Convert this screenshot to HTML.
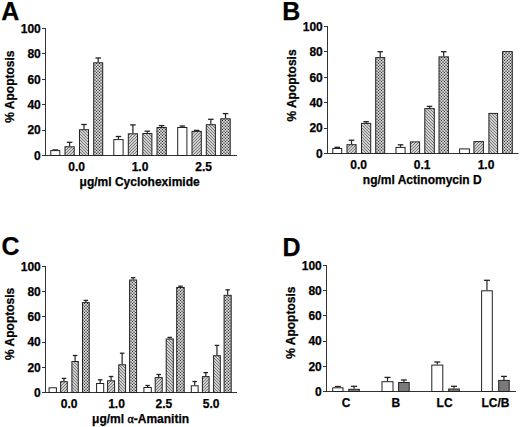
<!DOCTYPE html>
<html><head><meta charset="utf-8"><style>
html,body{margin:0;padding:0;background:#fff;}
svg{display:block;}
</style></head><body>
<svg width="520" height="427" viewBox="0 0 520 427">
<rect width="520" height="427" fill="#fff"/>
<defs>
<pattern id="h1" patternUnits="userSpaceOnUse" width="3" height="3">
<rect width="3" height="3" fill="#fff"/>
<path d="M-1,1 L1,-1 M0,3 L3,0 M2,4 L4,2" stroke="#707070" stroke-width="1.2"/>
</pattern>
<pattern id="h2" patternUnits="userSpaceOnUse" width="3" height="3">
<rect width="3" height="3" fill="#fff"/>
<path d="M-1,2 L1,4 M0,0 L3,3 M2,-1 L4,1" stroke="#707070" stroke-width="1.2"/>
</pattern>
<pattern id="hx" patternUnits="userSpaceOnUse" width="3" height="3">
<rect width="3" height="3" fill="#fff"/>
<circle cx="0.5" cy="0.5" r="0.78" fill="#2a2a2a"/><circle cx="3.5" cy="0.5" r="0.78" fill="#2a2a2a"/><circle cx="0.5" cy="3.5" r="0.78" fill="#2a2a2a"/><circle cx="3.5" cy="3.5" r="0.78" fill="#2a2a2a"/>
<circle cx="2" cy="2" r="0.86" fill="#2a2a2a"/>
</pattern>
</defs>
<line x1="45.5" y1="28.0" x2="45.5" y2="156.0" stroke="#333" stroke-width="1"/>
<line x1="42.0" y1="155.5" x2="237" y2="155.5" stroke="#333" stroke-width="1"/>
<line x1="42.0" y1="155.5" x2="45.5" y2="155.5" stroke="#333" stroke-width="1"/>
<text x="40.8" y="159.8" text-anchor="end" font-family="Liberation Sans, sans-serif" font-weight="bold" fill="#000" stroke="#000" stroke-width="0.25" font-size="12">0</text>
<line x1="42.0" y1="130.5" x2="45.5" y2="130.5" stroke="#333" stroke-width="1"/>
<text x="40.8" y="134.4" text-anchor="end" font-family="Liberation Sans, sans-serif" font-weight="bold" fill="#000" stroke="#000" stroke-width="0.25" font-size="12">20</text>
<line x1="42.0" y1="104.5" x2="45.5" y2="104.5" stroke="#333" stroke-width="1"/>
<text x="40.8" y="109.0" text-anchor="end" font-family="Liberation Sans, sans-serif" font-weight="bold" fill="#000" stroke="#000" stroke-width="0.25" font-size="12">40</text>
<line x1="42.0" y1="79.5" x2="45.5" y2="79.5" stroke="#333" stroke-width="1"/>
<text x="40.8" y="83.6" text-anchor="end" font-family="Liberation Sans, sans-serif" font-weight="bold" fill="#000" stroke="#000" stroke-width="0.25" font-size="12">60</text>
<line x1="42.0" y1="53.5" x2="45.5" y2="53.5" stroke="#333" stroke-width="1"/>
<text x="40.8" y="58.2" text-anchor="end" font-family="Liberation Sans, sans-serif" font-weight="bold" fill="#000" stroke="#000" stroke-width="0.25" font-size="12">80</text>
<line x1="42.0" y1="28.5" x2="45.5" y2="28.5" stroke="#333" stroke-width="1"/>
<text x="40.8" y="32.8" text-anchor="end" font-family="Liberation Sans, sans-serif" font-weight="bold" fill="#000" stroke="#000" stroke-width="0.25" font-size="12">100</text>
<text transform="translate(13.7,122.7) rotate(-90)" font-family="Liberation Sans, sans-serif" font-weight="bold" fill="#000" stroke="#000" stroke-width="0.25" font-size="12">% Apoptosis</text>
<text x="1.2" y="19.5" font-family="Liberation Sans, sans-serif" font-weight="bold" fill="#000" stroke="#000" stroke-width="0.25" font-size="25">A</text>
<line x1="52.55" y1="149.9" x2="58.05" y2="149.9" stroke="#222" stroke-width="1.3"/>
<rect x="50.80" y="150.60" width="9.00" height="4.90" fill="white" stroke="#222" stroke-width="1"/>
<line x1="69.6" y1="146.3" x2="69.6" y2="142.3" stroke="#222" stroke-width="1.2"/>
<line x1="66.85" y1="142.3" x2="72.35" y2="142.3" stroke="#222" stroke-width="1.3"/>
<rect x="65.00" y="146.80" width="9.20" height="8.70" fill="url(#h1)" stroke="#222" stroke-width="1"/>
<line x1="84.0" y1="129.2" x2="84.0" y2="124.5" stroke="#222" stroke-width="1.2"/>
<line x1="81.25" y1="124.5" x2="86.75" y2="124.5" stroke="#222" stroke-width="1.3"/>
<rect x="79.50" y="129.70" width="9.00" height="25.80" fill="url(#h2)" stroke="#222" stroke-width="1"/>
<line x1="98.2" y1="62.3" x2="98.2" y2="58.0" stroke="#222" stroke-width="1.2"/>
<line x1="95.45" y1="58.0" x2="100.95" y2="58.0" stroke="#222" stroke-width="1.3"/>
<rect x="93.70" y="62.80" width="9.00" height="92.70" fill="url(#hx)" stroke="#222" stroke-width="1"/>
<line x1="118.44999999999999" y1="139.1" x2="118.44999999999999" y2="136.5" stroke="#222" stroke-width="1.2"/>
<line x1="115.69999999999999" y1="136.5" x2="121.19999999999999" y2="136.5" stroke="#222" stroke-width="1.3"/>
<rect x="113.80" y="139.60" width="9.30" height="15.90" fill="white" stroke="#222" stroke-width="1"/>
<line x1="132.9" y1="133.3" x2="132.9" y2="124.9" stroke="#222" stroke-width="1.2"/>
<line x1="130.15" y1="124.9" x2="135.65" y2="124.9" stroke="#222" stroke-width="1.3"/>
<rect x="128.30" y="133.80" width="9.20" height="21.70" fill="url(#h1)" stroke="#222" stroke-width="1"/>
<line x1="147.35000000000002" y1="133.0" x2="147.35000000000002" y2="131.2" stroke="#222" stroke-width="1.2"/>
<line x1="144.60000000000002" y1="131.2" x2="150.10000000000002" y2="131.2" stroke="#222" stroke-width="1.3"/>
<rect x="142.80" y="133.50" width="9.10" height="22.00" fill="url(#h2)" stroke="#222" stroke-width="1"/>
<line x1="161.65" y1="127.0" x2="161.65" y2="125.6" stroke="#222" stroke-width="1.2"/>
<line x1="158.9" y1="125.6" x2="164.4" y2="125.6" stroke="#222" stroke-width="1.3"/>
<rect x="157.00" y="127.50" width="9.30" height="28.00" fill="url(#hx)" stroke="#222" stroke-width="1"/>
<line x1="182.3" y1="127.0" x2="182.3" y2="126.0" stroke="#222" stroke-width="1.2"/>
<line x1="179.55" y1="126.0" x2="185.05" y2="126.0" stroke="#222" stroke-width="1.3"/>
<rect x="177.70" y="127.50" width="9.20" height="28.00" fill="white" stroke="#222" stroke-width="1"/>
<line x1="193.9" y1="130.4" x2="199.4" y2="130.4" stroke="#222" stroke-width="1.3"/>
<rect x="192.00" y="131.40" width="9.30" height="24.10" fill="url(#h1)" stroke="#222" stroke-width="1"/>
<line x1="210.85000000000002" y1="124.2" x2="210.85000000000002" y2="119.3" stroke="#222" stroke-width="1.2"/>
<line x1="208.10000000000002" y1="119.3" x2="213.60000000000002" y2="119.3" stroke="#222" stroke-width="1.3"/>
<rect x="206.30" y="124.70" width="9.10" height="30.80" fill="url(#h2)" stroke="#222" stroke-width="1"/>
<line x1="225.5" y1="118.3" x2="225.5" y2="113.6" stroke="#222" stroke-width="1.2"/>
<line x1="222.75" y1="113.6" x2="228.25" y2="113.6" stroke="#222" stroke-width="1.3"/>
<rect x="220.80" y="118.80" width="9.40" height="36.70" fill="url(#hx)" stroke="#222" stroke-width="1"/>
<text x="76.6" y="171.4" text-anchor="middle" font-family="Liberation Sans, sans-serif" font-weight="bold" fill="#000" stroke="#000" stroke-width="0.25" font-size="12">0.0</text>
<text x="140.0" y="171.4" text-anchor="middle" font-family="Liberation Sans, sans-serif" font-weight="bold" fill="#000" stroke="#000" stroke-width="0.25" font-size="12">1.0</text>
<text x="203.6" y="171.4" text-anchor="middle" font-family="Liberation Sans, sans-serif" font-weight="bold" fill="#000" stroke="#000" stroke-width="0.25" font-size="12">2.5</text>
<text x="79.6" y="185.5" font-family="Liberation Sans, sans-serif" font-weight="bold" fill="#000" stroke="#000" stroke-width="0.25" font-size="12">μg/ml Cycloheximide</text>
<line x1="327.5" y1="26.0" x2="327.5" y2="154.0" stroke="#333" stroke-width="1"/>
<line x1="324.0" y1="153.5" x2="518.5" y2="153.5" stroke="#333" stroke-width="1"/>
<line x1="324.0" y1="153.5" x2="327.5" y2="153.5" stroke="#333" stroke-width="1"/>
<text x="322.8" y="157.8" text-anchor="end" font-family="Liberation Sans, sans-serif" font-weight="bold" fill="#000" stroke="#000" stroke-width="0.25" font-size="12">0</text>
<line x1="324.0" y1="128.5" x2="327.5" y2="128.5" stroke="#333" stroke-width="1"/>
<text x="322.8" y="132.4" text-anchor="end" font-family="Liberation Sans, sans-serif" font-weight="bold" fill="#000" stroke="#000" stroke-width="0.25" font-size="12">20</text>
<line x1="324.0" y1="102.5" x2="327.5" y2="102.5" stroke="#333" stroke-width="1"/>
<text x="322.8" y="107.0" text-anchor="end" font-family="Liberation Sans, sans-serif" font-weight="bold" fill="#000" stroke="#000" stroke-width="0.25" font-size="12">40</text>
<line x1="324.0" y1="77.5" x2="327.5" y2="77.5" stroke="#333" stroke-width="1"/>
<text x="322.8" y="81.6" text-anchor="end" font-family="Liberation Sans, sans-serif" font-weight="bold" fill="#000" stroke="#000" stroke-width="0.25" font-size="12">60</text>
<line x1="324.0" y1="51.5" x2="327.5" y2="51.5" stroke="#333" stroke-width="1"/>
<text x="322.8" y="56.2" text-anchor="end" font-family="Liberation Sans, sans-serif" font-weight="bold" fill="#000" stroke="#000" stroke-width="0.25" font-size="12">80</text>
<line x1="324.0" y1="26.5" x2="327.5" y2="26.5" stroke="#333" stroke-width="1"/>
<text x="322.8" y="30.8" text-anchor="end" font-family="Liberation Sans, sans-serif" font-weight="bold" fill="#000" stroke="#000" stroke-width="0.25" font-size="12">100</text>
<text transform="translate(295.8,121.6) rotate(-90)" font-family="Liberation Sans, sans-serif" font-weight="bold" fill="#000" stroke="#000" stroke-width="0.25" font-size="12">% Apoptosis</text>
<text x="282.3" y="19.5" font-family="Liberation Sans, sans-serif" font-weight="bold" fill="#000" stroke="#000" stroke-width="0.25" font-size="25">B</text>
<line x1="337.25" y1="148.0" x2="337.25" y2="147.3" stroke="#222" stroke-width="1.2"/>
<line x1="334.5" y1="147.3" x2="340.0" y2="147.3" stroke="#222" stroke-width="1.3"/>
<rect x="332.80" y="148.50" width="8.90" height="5.00" fill="white" stroke="#222" stroke-width="1"/>
<line x1="351.55" y1="144.2" x2="351.55" y2="140.2" stroke="#222" stroke-width="1.2"/>
<line x1="348.8" y1="140.2" x2="354.3" y2="140.2" stroke="#222" stroke-width="1.3"/>
<rect x="347.00" y="144.70" width="9.10" height="8.80" fill="url(#h1)" stroke="#222" stroke-width="1"/>
<line x1="366.1" y1="122.9" x2="366.1" y2="121.7" stroke="#222" stroke-width="1.2"/>
<line x1="363.35" y1="121.7" x2="368.85" y2="121.7" stroke="#222" stroke-width="1.3"/>
<rect x="361.50" y="123.40" width="9.20" height="30.10" fill="url(#h2)" stroke="#222" stroke-width="1"/>
<line x1="380.2" y1="57.1" x2="380.2" y2="51.7" stroke="#222" stroke-width="1.2"/>
<line x1="377.45" y1="51.7" x2="382.95" y2="51.7" stroke="#222" stroke-width="1.3"/>
<rect x="375.70" y="57.60" width="9.00" height="95.90" fill="url(#hx)" stroke="#222" stroke-width="1"/>
<line x1="400.55" y1="146.9" x2="400.55" y2="144.8" stroke="#222" stroke-width="1.2"/>
<line x1="397.8" y1="144.8" x2="403.3" y2="144.8" stroke="#222" stroke-width="1.3"/>
<rect x="396.00" y="147.40" width="9.10" height="6.10" fill="white" stroke="#222" stroke-width="1"/>
<rect x="410.40" y="141.90" width="9.20" height="11.60" fill="url(#h1)" stroke="#222" stroke-width="1"/>
<line x1="429.55" y1="108.1" x2="429.55" y2="106.4" stroke="#222" stroke-width="1.2"/>
<line x1="426.8" y1="106.4" x2="432.3" y2="106.4" stroke="#222" stroke-width="1.3"/>
<rect x="424.80" y="108.60" width="9.50" height="44.90" fill="url(#h2)" stroke="#222" stroke-width="1"/>
<line x1="443.7" y1="56.4" x2="443.7" y2="51.7" stroke="#222" stroke-width="1.2"/>
<line x1="440.95" y1="51.7" x2="446.45" y2="51.7" stroke="#222" stroke-width="1.3"/>
<rect x="439.00" y="56.90" width="9.40" height="96.60" fill="url(#hx)" stroke="#222" stroke-width="1"/>
<rect x="459.60" y="148.90" width="9.80" height="4.60" fill="white" stroke="#222" stroke-width="1"/>
<rect x="473.90" y="141.60" width="9.50" height="11.90" fill="url(#h1)" stroke="#222" stroke-width="1"/>
<rect x="488.90" y="113.40" width="8.70" height="40.10" fill="url(#h2)" stroke="#222" stroke-width="1"/>
<rect x="502.60" y="51.60" width="9.70" height="101.90" fill="url(#hx)" stroke="#222" stroke-width="1"/>
<text x="358.7" y="168.7" text-anchor="middle" font-family="Liberation Sans, sans-serif" font-weight="bold" fill="#000" stroke="#000" stroke-width="0.25" font-size="12">0.0</text>
<text x="422.2" y="168.7" text-anchor="middle" font-family="Liberation Sans, sans-serif" font-weight="bold" fill="#000" stroke="#000" stroke-width="0.25" font-size="12">0.1</text>
<text x="486.0" y="168.7" text-anchor="middle" font-family="Liberation Sans, sans-serif" font-weight="bold" fill="#000" stroke="#000" stroke-width="0.25" font-size="12">1.0</text>
<text x="362.8" y="183.5" font-family="Liberation Sans, sans-serif" font-weight="bold" fill="#000" stroke="#000" stroke-width="0.25" font-size="12">ng/ml Actinomycin D</text>
<line x1="45.5" y1="266.0" x2="45.5" y2="393.0" stroke="#333" stroke-width="1"/>
<line x1="42.0" y1="392.5" x2="237" y2="392.5" stroke="#333" stroke-width="1"/>
<line x1="42.0" y1="392.5" x2="45.5" y2="392.5" stroke="#333" stroke-width="1"/>
<text x="40.8" y="396.8" text-anchor="end" font-family="Liberation Sans, sans-serif" font-weight="bold" fill="#000" stroke="#000" stroke-width="0.25" font-size="12">0</text>
<line x1="42.0" y1="367.5" x2="45.5" y2="367.5" stroke="#333" stroke-width="1"/>
<text x="40.8" y="371.6" text-anchor="end" font-family="Liberation Sans, sans-serif" font-weight="bold" fill="#000" stroke="#000" stroke-width="0.25" font-size="12">20</text>
<line x1="42.0" y1="342.5" x2="45.5" y2="342.5" stroke="#333" stroke-width="1"/>
<text x="40.8" y="346.4" text-anchor="end" font-family="Liberation Sans, sans-serif" font-weight="bold" fill="#000" stroke="#000" stroke-width="0.25" font-size="12">40</text>
<line x1="42.0" y1="316.5" x2="45.5" y2="316.5" stroke="#333" stroke-width="1"/>
<text x="40.8" y="321.2" text-anchor="end" font-family="Liberation Sans, sans-serif" font-weight="bold" fill="#000" stroke="#000" stroke-width="0.25" font-size="12">60</text>
<line x1="42.0" y1="291.5" x2="45.5" y2="291.5" stroke="#333" stroke-width="1"/>
<text x="40.8" y="296.0" text-anchor="end" font-family="Liberation Sans, sans-serif" font-weight="bold" fill="#000" stroke="#000" stroke-width="0.25" font-size="12">80</text>
<line x1="42.0" y1="266.5" x2="45.5" y2="266.5" stroke="#333" stroke-width="1"/>
<text x="40.8" y="270.8" text-anchor="end" font-family="Liberation Sans, sans-serif" font-weight="bold" fill="#000" stroke="#000" stroke-width="0.25" font-size="12">100</text>
<text transform="translate(13.6,360.0) rotate(-90)" font-family="Liberation Sans, sans-serif" font-weight="bold" fill="#000" stroke="#000" stroke-width="0.25" font-size="12">% Apoptosis</text>
<text x="1.6" y="255.3" font-family="Liberation Sans, sans-serif" font-weight="bold" fill="#000" stroke="#000" stroke-width="0.25" font-size="25">C</text>
<rect x="49.10" y="387.80" width="7.30" height="4.70" fill="white" stroke="#222" stroke-width="1"/>
<line x1="63.95" y1="381.2" x2="63.95" y2="378.4" stroke="#222" stroke-width="1.2"/>
<line x1="61.7" y1="378.4" x2="66.2" y2="378.4" stroke="#222" stroke-width="1.3"/>
<rect x="60.60" y="381.70" width="6.70" height="10.80" fill="url(#h1)" stroke="#222" stroke-width="1"/>
<line x1="75.1" y1="361.0" x2="75.1" y2="355.5" stroke="#222" stroke-width="1.2"/>
<line x1="72.85" y1="355.5" x2="77.35" y2="355.5" stroke="#222" stroke-width="1.3"/>
<rect x="71.90" y="361.50" width="6.40" height="31.00" fill="url(#h2)" stroke="#222" stroke-width="1"/>
<line x1="85.85" y1="302.1" x2="85.85" y2="300.4" stroke="#222" stroke-width="1.2"/>
<line x1="83.6" y1="300.4" x2="88.1" y2="300.4" stroke="#222" stroke-width="1.3"/>
<rect x="82.50" y="302.60" width="6.70" height="89.90" fill="url(#hx)" stroke="#222" stroke-width="1"/>
<line x1="100.15" y1="383.0" x2="100.15" y2="379.8" stroke="#222" stroke-width="1.2"/>
<line x1="97.9" y1="379.8" x2="102.4" y2="379.8" stroke="#222" stroke-width="1.3"/>
<rect x="96.60" y="383.50" width="7.10" height="9.00" fill="white" stroke="#222" stroke-width="1"/>
<line x1="111.1" y1="380.3" x2="111.1" y2="376.5" stroke="#222" stroke-width="1.2"/>
<line x1="108.85" y1="376.5" x2="113.35" y2="376.5" stroke="#222" stroke-width="1.3"/>
<rect x="107.60" y="380.80" width="7.00" height="11.70" fill="url(#h1)" stroke="#222" stroke-width="1"/>
<line x1="122.15" y1="364.3" x2="122.15" y2="353.2" stroke="#222" stroke-width="1.2"/>
<line x1="119.9" y1="353.2" x2="124.4" y2="353.2" stroke="#222" stroke-width="1.3"/>
<rect x="118.70" y="364.80" width="6.90" height="27.70" fill="url(#h2)" stroke="#222" stroke-width="1"/>
<line x1="133.1" y1="279.5" x2="133.1" y2="277.7" stroke="#222" stroke-width="1.2"/>
<line x1="130.85" y1="277.7" x2="135.35" y2="277.7" stroke="#222" stroke-width="1.3"/>
<rect x="129.60" y="280.00" width="7.00" height="112.50" fill="url(#hx)" stroke="#222" stroke-width="1"/>
<line x1="147.60000000000002" y1="387.0" x2="147.60000000000002" y2="385.5" stroke="#222" stroke-width="1.2"/>
<line x1="145.35000000000002" y1="385.5" x2="149.85000000000002" y2="385.5" stroke="#222" stroke-width="1.3"/>
<rect x="143.90" y="387.50" width="7.40" height="5.00" fill="white" stroke="#222" stroke-width="1"/>
<line x1="158.7" y1="377.1" x2="158.7" y2="374.5" stroke="#222" stroke-width="1.2"/>
<line x1="156.45" y1="374.5" x2="160.95" y2="374.5" stroke="#222" stroke-width="1.3"/>
<rect x="155.20" y="377.60" width="7.00" height="14.90" fill="url(#h1)" stroke="#222" stroke-width="1"/>
<line x1="169.75" y1="338.5" x2="169.75" y2="337.4" stroke="#222" stroke-width="1.2"/>
<line x1="167.5" y1="337.4" x2="172.0" y2="337.4" stroke="#222" stroke-width="1.3"/>
<rect x="166.20" y="339.00" width="7.10" height="53.50" fill="url(#h2)" stroke="#222" stroke-width="1"/>
<line x1="180.45" y1="287.0" x2="180.45" y2="286.2" stroke="#222" stroke-width="1.2"/>
<line x1="178.2" y1="286.2" x2="182.7" y2="286.2" stroke="#222" stroke-width="1.3"/>
<rect x="176.70" y="287.50" width="7.50" height="105.00" fill="url(#hx)" stroke="#222" stroke-width="1"/>
<line x1="194.7" y1="385.3" x2="194.7" y2="381.5" stroke="#222" stroke-width="1.2"/>
<line x1="192.45" y1="381.5" x2="196.95" y2="381.5" stroke="#222" stroke-width="1.3"/>
<rect x="191.30" y="385.80" width="6.80" height="6.70" fill="white" stroke="#222" stroke-width="1"/>
<line x1="205.75" y1="376.1" x2="205.75" y2="372.6" stroke="#222" stroke-width="1.2"/>
<line x1="203.5" y1="372.6" x2="208.0" y2="372.6" stroke="#222" stroke-width="1.3"/>
<rect x="202.40" y="376.60" width="6.70" height="15.90" fill="url(#h1)" stroke="#222" stroke-width="1"/>
<line x1="216.95" y1="355.2" x2="216.95" y2="345.4" stroke="#222" stroke-width="1.2"/>
<line x1="214.7" y1="345.4" x2="219.2" y2="345.4" stroke="#222" stroke-width="1.3"/>
<rect x="213.60" y="355.70" width="6.70" height="36.80" fill="url(#h2)" stroke="#222" stroke-width="1"/>
<line x1="227.64999999999998" y1="294.8" x2="227.64999999999998" y2="289.8" stroke="#222" stroke-width="1.2"/>
<line x1="225.39999999999998" y1="289.8" x2="229.89999999999998" y2="289.8" stroke="#222" stroke-width="1.3"/>
<rect x="224.10" y="295.30" width="7.10" height="97.20" fill="url(#hx)" stroke="#222" stroke-width="1"/>
<text x="69.2" y="407.7" text-anchor="middle" font-family="Liberation Sans, sans-serif" font-weight="bold" fill="#000" stroke="#000" stroke-width="0.25" font-size="12">0.0</text>
<text x="116.5" y="407.7" text-anchor="middle" font-family="Liberation Sans, sans-serif" font-weight="bold" fill="#000" stroke="#000" stroke-width="0.25" font-size="12">1.0</text>
<text x="163.8" y="407.7" text-anchor="middle" font-family="Liberation Sans, sans-serif" font-weight="bold" fill="#000" stroke="#000" stroke-width="0.25" font-size="12">2.5</text>
<text x="211.2" y="407.7" text-anchor="middle" font-family="Liberation Sans, sans-serif" font-weight="bold" fill="#000" stroke="#000" stroke-width="0.25" font-size="12">5.0</text>
<text x="92.1" y="422.5" font-family="Liberation Sans, sans-serif" font-weight="bold" fill="#000" stroke="#000" stroke-width="0.25" font-size="12">μg/ml <tspan font-family="Liberation Serif" font-weight="normal" stroke-width="0.45">α</tspan>-Amanitin</text>
<line x1="326.5" y1="265.0" x2="326.5" y2="392.0" stroke="#333" stroke-width="1"/>
<line x1="323.0" y1="391.5" x2="516" y2="391.5" stroke="#333" stroke-width="1"/>
<line x1="323.0" y1="391.5" x2="326.5" y2="391.5" stroke="#333" stroke-width="1"/>
<text x="321.8" y="395.8" text-anchor="end" font-family="Liberation Sans, sans-serif" font-weight="bold" fill="#000" stroke="#000" stroke-width="0.25" font-size="12">0</text>
<line x1="323.0" y1="366.5" x2="326.5" y2="366.5" stroke="#333" stroke-width="1"/>
<text x="321.8" y="370.6" text-anchor="end" font-family="Liberation Sans, sans-serif" font-weight="bold" fill="#000" stroke="#000" stroke-width="0.25" font-size="12">20</text>
<line x1="323.0" y1="341.5" x2="326.5" y2="341.5" stroke="#333" stroke-width="1"/>
<text x="321.8" y="345.4" text-anchor="end" font-family="Liberation Sans, sans-serif" font-weight="bold" fill="#000" stroke="#000" stroke-width="0.25" font-size="12">40</text>
<line x1="323.0" y1="315.5" x2="326.5" y2="315.5" stroke="#333" stroke-width="1"/>
<text x="321.8" y="320.2" text-anchor="end" font-family="Liberation Sans, sans-serif" font-weight="bold" fill="#000" stroke="#000" stroke-width="0.25" font-size="12">60</text>
<line x1="323.0" y1="290.5" x2="326.5" y2="290.5" stroke="#333" stroke-width="1"/>
<text x="321.8" y="295.0" text-anchor="end" font-family="Liberation Sans, sans-serif" font-weight="bold" fill="#000" stroke="#000" stroke-width="0.25" font-size="12">80</text>
<line x1="323.0" y1="265.5" x2="326.5" y2="265.5" stroke="#333" stroke-width="1"/>
<text x="321.8" y="269.8" text-anchor="end" font-family="Liberation Sans, sans-serif" font-weight="bold" fill="#000" stroke="#000" stroke-width="0.25" font-size="12">100</text>
<text transform="translate(295.0,358.8) rotate(-90)" font-family="Liberation Sans, sans-serif" font-weight="bold" fill="#000" stroke="#000" stroke-width="0.25" font-size="12">% Apoptosis</text>
<text x="282.5" y="256.0" font-family="Liberation Sans, sans-serif" font-weight="bold" fill="#000" stroke="#000" stroke-width="0.25" font-size="25">D</text>
<line x1="337.85" y1="387.3" x2="337.85" y2="386.5" stroke="#222" stroke-width="1.2"/>
<line x1="334.85" y1="386.5" x2="340.85" y2="386.5" stroke="#222" stroke-width="1.3"/>
<rect x="332.70" y="387.80" width="10.30" height="3.70" fill="white" stroke="#222" stroke-width="1"/>
<line x1="354.05" y1="388.8" x2="354.05" y2="386.3" stroke="#222" stroke-width="1.2"/>
<line x1="351.05" y1="386.3" x2="357.05" y2="386.3" stroke="#222" stroke-width="1.3"/>
<rect x="348.80" y="389.30" width="10.50" height="2.20" fill="#7a7a7a" stroke="#222" stroke-width="1"/>
<line x1="387.5" y1="381.2" x2="387.5" y2="377.4" stroke="#222" stroke-width="1.2"/>
<line x1="384.5" y1="377.4" x2="390.5" y2="377.4" stroke="#222" stroke-width="1.3"/>
<rect x="382.00" y="381.70" width="11.00" height="9.80" fill="white" stroke="#222" stroke-width="1"/>
<line x1="403.9" y1="382.0" x2="403.9" y2="380.0" stroke="#222" stroke-width="1.2"/>
<line x1="400.9" y1="380.0" x2="406.9" y2="380.0" stroke="#222" stroke-width="1.3"/>
<rect x="398.60" y="382.50" width="10.60" height="9.00" fill="#7a7a7a" stroke="#222" stroke-width="1"/>
<line x1="437.3" y1="364.6" x2="437.3" y2="362.0" stroke="#222" stroke-width="1.2"/>
<line x1="434.3" y1="362.0" x2="440.3" y2="362.0" stroke="#222" stroke-width="1.3"/>
<rect x="431.80" y="365.10" width="11.00" height="26.40" fill="white" stroke="#222" stroke-width="1"/>
<line x1="454.0" y1="388.5" x2="454.0" y2="386.3" stroke="#222" stroke-width="1.2"/>
<line x1="451.0" y1="386.3" x2="457.0" y2="386.3" stroke="#222" stroke-width="1.3"/>
<rect x="448.70" y="389.00" width="10.60" height="2.50" fill="#7a7a7a" stroke="#222" stroke-width="1"/>
<line x1="486.95000000000005" y1="290.3" x2="486.95000000000005" y2="280.3" stroke="#222" stroke-width="1.2"/>
<line x1="483.95000000000005" y1="280.3" x2="489.95000000000005" y2="280.3" stroke="#222" stroke-width="1.3"/>
<rect x="481.60" y="290.80" width="10.70" height="100.70" fill="white" stroke="#222" stroke-width="1"/>
<line x1="503.95" y1="379.9" x2="503.95" y2="376.4" stroke="#222" stroke-width="1.2"/>
<line x1="500.95" y1="376.4" x2="506.95" y2="376.4" stroke="#222" stroke-width="1.3"/>
<rect x="498.70" y="380.40" width="10.50" height="11.10" fill="#7a7a7a" stroke="#222" stroke-width="1"/>
<text x="346.2" y="406.5" text-anchor="middle" font-family="Liberation Sans, sans-serif" font-weight="bold" fill="#000" stroke="#000" stroke-width="0.25" font-size="12">C</text>
<text x="395.8" y="406.5" text-anchor="middle" font-family="Liberation Sans, sans-serif" font-weight="bold" fill="#000" stroke="#000" stroke-width="0.25" font-size="12">B</text>
<text x="444.6" y="406.5" text-anchor="middle" font-family="Liberation Sans, sans-serif" font-weight="bold" fill="#000" stroke="#000" stroke-width="0.25" font-size="12">LC</text>
<text x="495.5" y="406.5" text-anchor="middle" font-family="Liberation Sans, sans-serif" font-weight="bold" fill="#000" stroke="#000" stroke-width="0.25" font-size="12">LC/B</text>
</svg>
</body></html>
